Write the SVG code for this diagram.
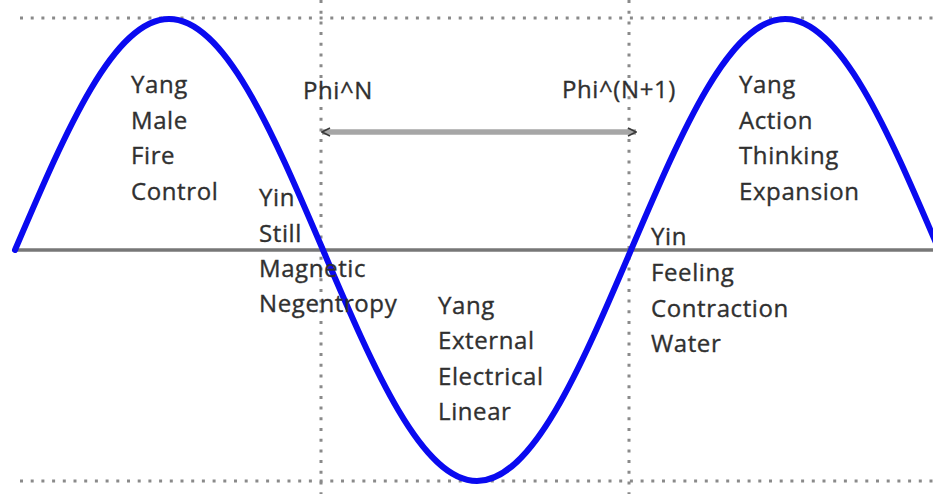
<svg xmlns="http://www.w3.org/2000/svg" width="933" height="494" viewBox="0 0 933 494">
<defs>
<style>
.dot{stroke:#8a8a8a;stroke-width:3;stroke-dasharray:3 7.7;fill:none}
.axis{stroke:#777;stroke-width:3.5;fill:none}
.wave{stroke:#0a0af0;stroke-width:6;fill:none;stroke-linejoin:round;stroke-linecap:round}
.lbl{font-family:"Open Sans","Noto Sans",sans-serif;font-size:24px;fill:#303030;stroke:#303030;stroke-width:0.35;letter-spacing:0.6px}
.arr{stroke:#a6a6a6;stroke-width:5.5;fill:none}
</style>
<marker id="chev" viewBox="0 0 10 10" refX="9" refY="5" markerWidth="10" markerHeight="10" markerUnits="userSpaceOnUse" orient="auto-start-reverse">
<path d="M1,1 L9,5 L1,9" fill="none" stroke="#3a3a3a" stroke-width="1.6"/>
</marker>
</defs>
<rect width="933" height="494" fill="#fff"/>
<g id="grid">
<line class="dot" x1="20" y1="18" x2="933" y2="18"/>
<line class="dot" x1="20" y1="481" x2="933" y2="481"/>
<line class="dot" x1="321" y1="0" x2="321" y2="494"/>
<line class="dot" x1="629" y1="0" x2="629" y2="494"/>
</g>
<line id="axis" class="axis" x1="14" y1="250" x2="933" y2="250"/>
<path id="wave" class="wave" d="M15,250 C65.2,132.7 113.3,19 169,19 C224.7,19 272.8,132.7 323,250 C373.2,367.3 421.3,481 477,481 C532.7,481 580.8,367.3 631,250 C681.2,132.7 729.3,19 785,19 C840.7,19 888.8,132.7 939,250"/>
<g id="connectors">
<path class="arr" d="M322,132 L636,132" marker-start="url(#chev)" marker-end="url(#chev)"/>
</g>
<g id="node-yang-left" class="lbl">
<text x="131" y="93">Yang</text>
<text x="131" y="128.5">Male</text>
<text x="131" y="164">Fire</text>
<text x="131" y="200">Control</text>
</g>
<g id="node-phi-n" class="lbl">
<text x="303" y="99">Phi^N</text>
</g>
<g id="node-phi-n1" class="lbl">
<text x="562" y="98">Phi^(N+1)</text>
</g>
<g id="node-yang-right" class="lbl">
<text x="739" y="93">Yang</text>
<text x="739" y="128.5">Action</text>
<text x="739" y="164">Thinking</text>
<text x="739" y="200">Expansion</text>
</g>
<g id="node-yin-left" class="lbl">
<text x="259" y="206">Yin</text>
<text x="259" y="241.5">Still</text>
<text x="259" y="277">Magnetic</text>
<text x="259" y="312">Negentropy</text>
</g>
<g id="node-yang-mid" class="lbl">
<text x="438" y="314">Yang</text>
<text x="438" y="349">External</text>
<text x="438" y="385">Electrical</text>
<text x="438" y="420">Linear</text>
</g>
<g id="node-yin-right" class="lbl">
<text x="651" y="245">Yin</text>
<text x="651" y="281">Feeling</text>
<text x="651" y="316.5">Contraction</text>
<text x="651" y="352">Water</text>
</g>
</svg>
